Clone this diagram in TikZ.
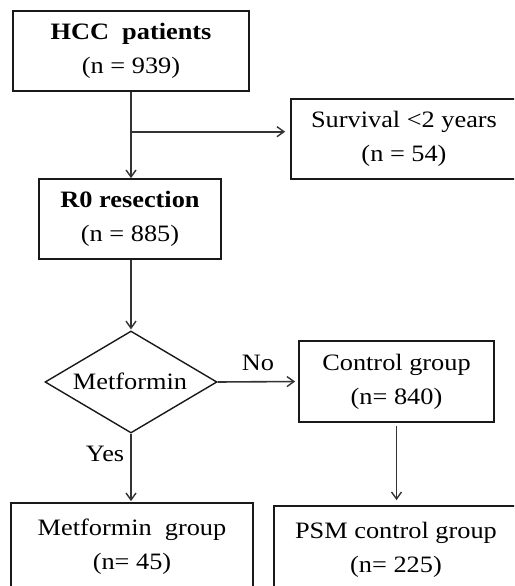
\documentclass[tikz,border=0pt]{standalone}
\usepackage{fontspec}
\setmainfont{Liberation Serif}[FakeStretch=1.12]
\usetikzlibrary{shapes.geometric,arrows.meta}
\begin{document}
\begin{tikzpicture}[x=1pt,y=1pt,
  font=\fontsize{23.5}{34}\selectfont,
  box/.style={draw=black!90,line width=1.7pt,rectangle,inner sep=0pt,align=center},
  decide/.style={draw=black!90,line width=1.4pt,diamond,inner sep=0pt,aspect=1.69},
  conn/.style={line width=1.6pt,draw=black!80,-{Straight Barb[length=7pt,width=10pt,line width=1.4pt]}},
  lbl/.style={inner sep=0pt}]
\useasboundingbox (0,0) rectangle (514,-586);
\clip (0,0) rectangle (514,-586);
\node[box,minimum width=236,minimum height=80] (hcc) at (131,-51) {\textbf{HCC\ \ patients}\\(n = 939)};
\node[box,minimum width=226,minimum height=80] (surv) at (404,-139) {Survival {<}2 years\\(n = 54)};
\node[box,minimum width=182,minimum height=80] (r0) at (130,-219) {\textbf{R0 resection}\\(n = 885)};
\node[decide,minimum width=172,minimum height=102] (met) at (131,-382) {};
\node[lbl] (mettxt) at (130,-381) {Metformin};
\node[box,minimum width=195,minimum height=81] (ctrl) at (396.5,-381.5) {Control group\\(n= 840)};
\node[box,minimum width=242,minimum height=88] (metg) at (132,-547) {Metformin\ \ group\\(n= 45)};
\node[box,minimum width=244,minimum height=88] (psm) at (396,-550) {PSM control group\\(n= 225)};
\coordinate (br) at (131,-131.7);
\draw[conn] (hcc.south -| br) -- (br |- r0.north);
\draw[conn,shorten >=5pt] (br) -- (br -| surv.west);
\draw[conn,shorten >=1pt] (r0.south -| met.north) -- (met.north);
\draw[conn,shorten >=3pt] (met.east) -- node[lbl,above=10pt] (no) {No} (ctrl.west);
\draw[conn,shorten >=1pt] (met.south) -- node[lbl,pos=0.3,left=6pt] (yes) {Yes} (met.south |- metg.north);
\draw[conn,shorten <=3pt,shorten >=5pt] (ctrl.south) -- (ctrl.south |- psm.north);
\end{tikzpicture}
\end{document}
